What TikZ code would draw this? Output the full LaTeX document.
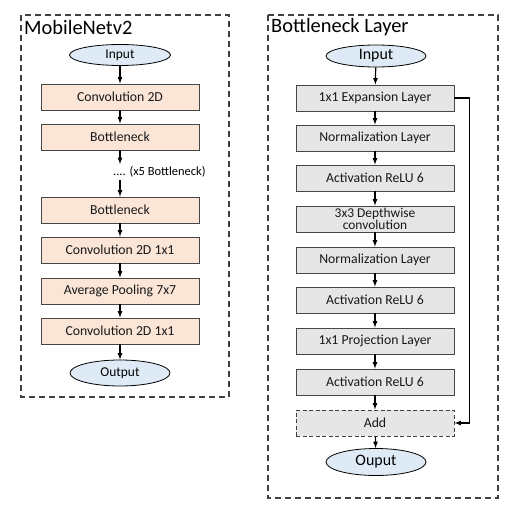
\documentclass[tikz,border=0pt]{standalone}
\usepackage{fontspec}
\setmainfont{Carlito}
\usepackage{tikz}
\usetikzlibrary{shapes.geometric}
\usepackage{xcolor}
\definecolor{layerpeach}{RGB}{251,229,214}
\definecolor{layergray}{RGB}{231,230,230}
\definecolor{ioblue}{RGB}{222,235,247}
\definecolor{edgegray}{RGB}{70,70,70}
\definecolor{framegray}{RGB}{64,64,64}

\begin{document}
\begin{tikzpicture}[x=1bp, y=-1bp,
  layer/.style={rectangle, draw=edgegray, line width=0.9bp, minimum width=158bp, minimum height=26bp, inner sep=1bp, text=black!90, font=\fontsize{13.8}{13}\selectfont},
  mblock/.style={layer, fill=layerpeach},
  bblock/.style={layer, fill=layergray},
  io/.style={ellipse, draw=black, line width=0.8bp, fill=ioblue, inner sep=0bp},
  flow/.style={-latex, line width=1.2bp},
  frame/.style={draw=framegray, line width=1.3bp, dash pattern=on 6bp off 4bp}]
  \useasboundingbox (0,0) rectangle (512,513);

  % MobileNetv2
  \draw[frame] (21,15) rectangle (229,397);
  \node[anchor=west, inner sep=0bp, font=\fontsize{20.5}{22}\selectfont] (mtitle) at (24,27) {MobileNetv2};
  \node[io, minimum width=101bp, minimum height=21bp, font=\fontsize{13.5}{14}\selectfont] (min) at (120,55) {Input};
  \node[mblock] (conv1) at (120,97) {Convolution 2D};
  \node[mblock] (bn1) at (120,137) {Bottleneck};
  \coordinate (gap1) at (120,164);
  \coordinate (gap2) at (120,180);
  \node[anchor=west, inner sep=0bp, font=\fontsize{12.5}{13}\selectfont] (more) at (113,172) {.... (x5 Bottleneck)};
  \node[mblock] (bn2) at (120,210) {Bottleneck};
  \node[mblock] (conv2) at (120,250) {Convolution 2D 1x1};
  \node[mblock] (pool) at (120,291) {Average Pooling 7x7};
  \node[mblock] (conv3) at (120,331) {Convolution 2D 1x1};
  \node[io, minimum width=100bp, minimum height=26bp, font=\fontsize{13.5}{14}\selectfont] (mout) at (120,373) {Output};
  \draw[flow] (min) -- (conv1);
  \draw[flow] (conv1) -- (bn1);
  \draw[flow] (bn1) -- (gap1);
  \draw[flow] (gap2) -- (bn2);
  \draw[flow] (bn2) -- (conv2);
  \draw[flow] (conv2) -- (pool);
  \draw[flow] (pool) -- (conv3);
  \draw[flow] (conv3) -- (mout);

  % Bottleneck layer
  \draw[frame] (268,15) rectangle (498,498);
  \node[anchor=west, inner sep=0bp, font=\fontsize{20.5}{22}\selectfont] (btitle) at (271,27) {Bottleneck Layer};
  \node[io, minimum width=100bp, minimum height=22bp, font=\fontsize{16}{17}\selectfont] (bin) at (376,56) {Input};
  \node[bblock] (expand) at (375,98) {1x1 Expansion Layer};
  \node[bblock] (norm1) at (375,138) {Normalization Layer};
  \node[bblock] (act1) at (375,178) {Activation ReLU 6};
  \node[bblock, align=center, font=\fontsize{13.5}{12}\selectfont] (dwise) at (375,219) {3x3 Depthwise\\convolution};
  \node[bblock] (norm2) at (375,260) {Normalization Layer};
  \node[bblock] (act2) at (375,300) {Activation ReLU 6};
  \node[bblock] (project) at (375,341) {1x1 Projection Layer};
  \node[bblock] (act3) at (375,382) {Activation ReLU 6};
  \node[bblock, draw=framegray, line width=1bp, dash pattern=on 4bp off 2.5bp] (add) at (375,423) {Add};
  \node[io, minimum width=100bp, minimum height=27bp, font=\fontsize{16}{17}\selectfont] (bout) at (376,462) {Ouput};
  \draw[flow] (bin) -- (expand);
  \draw[flow] (expand) -- (norm1);
  \draw[flow] (norm1) -- (act1);
  \draw[flow] (act1) -- (dwise);
  \draw[flow] (dwise) -- (norm2);
  \draw[flow] (norm2) -- (act2);
  \draw[flow] (act2) -- (project);
  \draw[flow] (project) -- (act3);
  \draw[flow] (act3) -- (add);
  \draw[flow] (add) -- (bout);
  % skip connection
  \draw[flow] (expand.east) -- ++(15,0) |- (add.east);
\end{tikzpicture}
\end{document}
